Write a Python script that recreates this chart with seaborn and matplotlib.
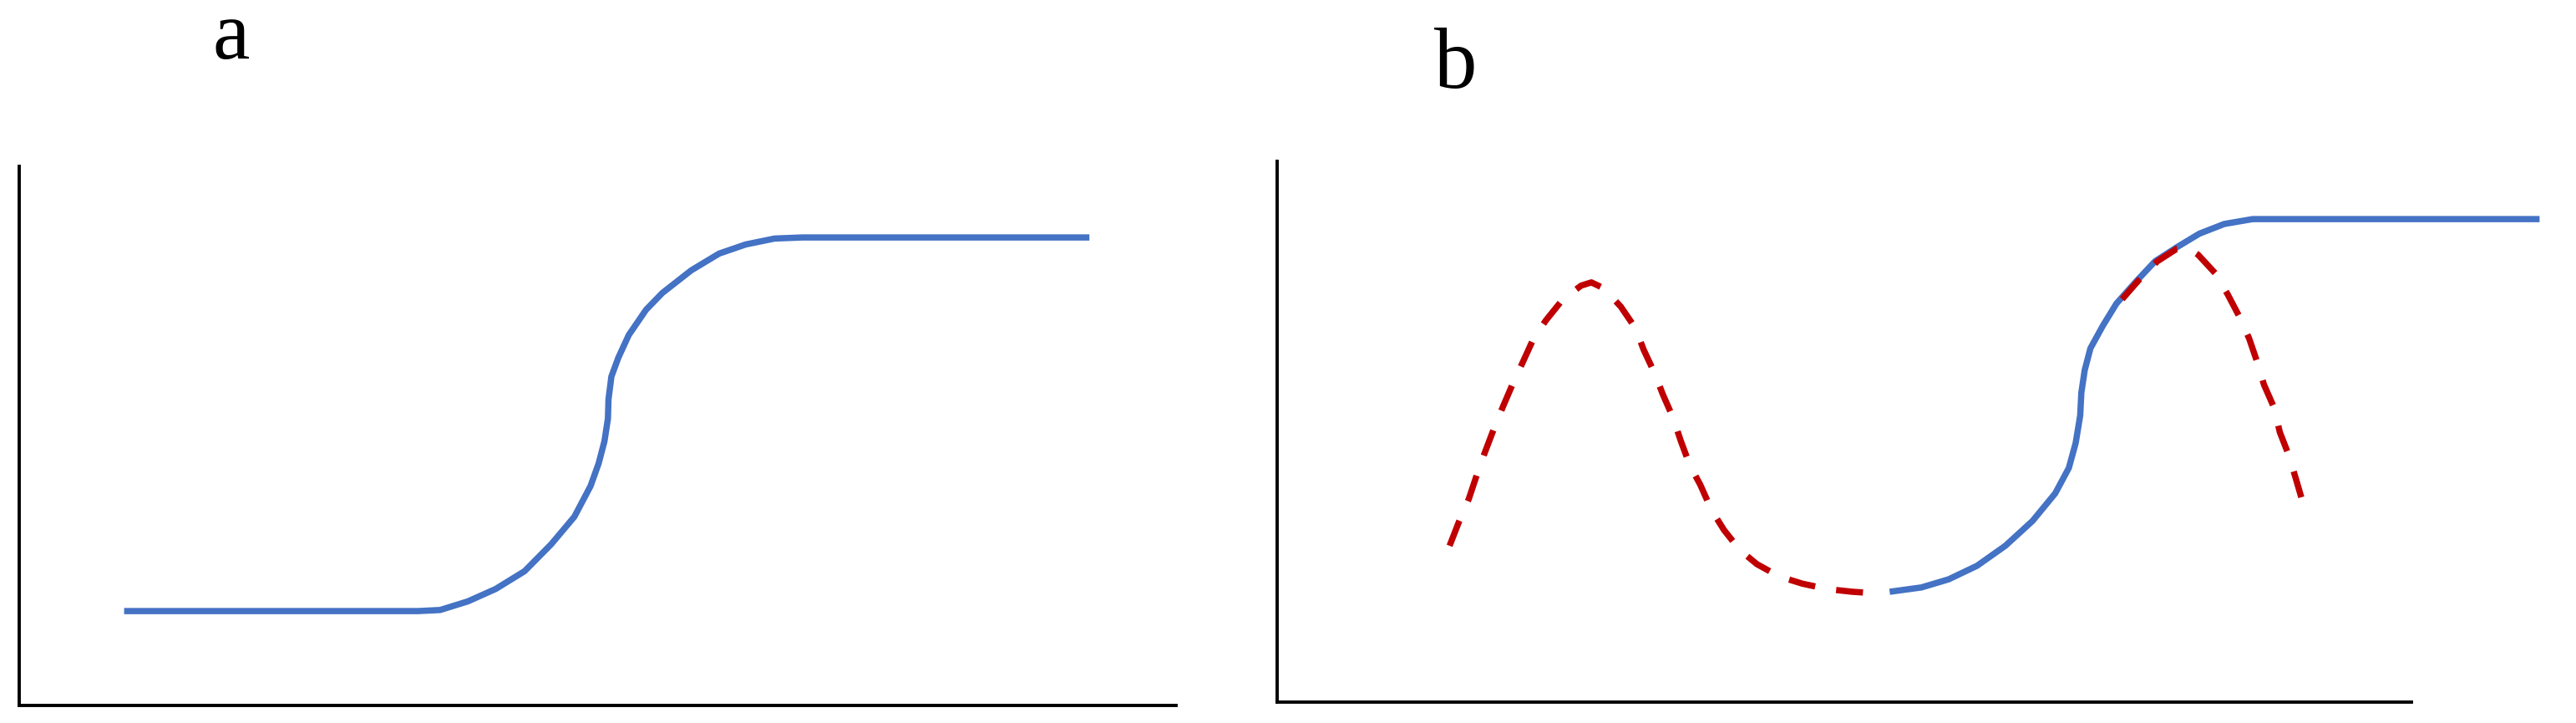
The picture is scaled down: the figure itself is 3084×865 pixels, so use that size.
import numpy as np
import pandas as pd
import matplotlib
matplotlib.use("Agg")
import matplotlib.pyplot as plt
import seaborn as sns

# ---- data (schematic curves, axis units 0..100) ----
a_x = [9.1, 34.5, 36.4, 38.8, 41.2, 43.7, 46.0, 48.0, 49.4, 50.1, 50.6, 50.9, 50.95, 51.2, 51.8,
       52.7, 54.2, 55.6, 58.1, 60.5, 62.8, 65.3, 67.7, 92.5]
a_y = [17.5, 17.5, 17.7, 19.3, 21.6, 24.9, 29.9, 35.0, 40.7, 44.9, 49.0, 53.2, 56.8, 61.0, 64.5,
       68.7, 73.4, 76.5, 80.7, 83.8, 85.5, 86.6, 86.8, 86.8]

b_blue_x = [54.0, 56.8, 59.2, 61.7, 64.2, 66.6, 68.6, 69.8, 70.4, 70.8, 70.9, 71.2, 71.7, 72.8,
            74.0, 75.7, 77.4, 79.4, 81.3, 83.5, 86.0, 87.2, 111.3]
b_blue_y = [20.4, 21.2, 22.7, 25.2, 28.9, 33.5, 38.6, 43.3, 47.9, 53.0, 57.2, 61.4, 65.4, 69.6,
            73.7, 77.7, 81.5, 84.2, 86.6, 88.4, 89.3, 89.3, 89.3]

b_red1_x = [15.2, 16.0, 16.9, 17.6, 18.3, 19.1, 19.9, 20.8, 21.6, 22.6, 23.7, 25.2, 26.8, 27.7,
            28.8, 30.3, 31.6, 32.3, 33.3, 34.0, 34.9, 35.6, 36.4, 37.3, 38.3, 39.4, 40.8, 42.3,
            44.3, 46.3, 48.5, 50.7, 52.9]
b_red1_y = [28.9, 33.2, 37.6, 42.0, 46.1, 50.5, 54.6, 59.0, 62.6, 67.2, 70.6, 74.5, 77.0, 77.6,
            76.5, 73.1, 69.1, 65.2, 60.7, 56.9, 52.6, 48.2, 43.7, 40.2, 35.5, 31.8, 28.1, 25.5,
            23.2, 21.9, 20.9, 20.4, 20.1]

b_red2_x = [74.5, 76.0, 77.6, 79.3, 80.2, 81.2, 82.7, 83.8, 84.8, 85.7, 86.4, 87.0, 87.9, 88.4,
            89.2, 89.8, 90.4]
b_red2_y = [74.5, 78.1, 81.5, 83.8, 84.1, 82.7, 79.3, 75.4, 71.4, 67.2, 62.9, 58.7, 54.4, 49.9,
            45.6, 41.4, 37.1]

panel_labels = ["a", "b"]

BLUE = "#4472C4"
RED = "#C00000"

sns.set_style("white")
plt.rcParams["font.family"] = ["Liberation Serif", "DejaVu Serif"]

fig = plt.figure(figsize=(30.84, 8.65), dpi=100)
ax_a = fig.add_axes([0.0073, 0.0243, 0.4493, 0.7457])
ax_b = fig.add_axes([0.4958, 0.0289, 0.4403, 0.7481])

for ax in (ax_a, ax_b):
    ax.set_xlim(0, 100)
    ax.set_ylim(0, 100)
    ax.set_xticks([])
    ax.set_yticks([])
    sns.despine(ax=ax, top=True, right=True)
    for s in ("left", "bottom"):
        ax.spines[s].set_linewidth(2.8)
        ax.spines[s].set_color("black")
        ax.spines[s].set_capstyle("projecting")
    ax.patch.set_alpha(0)

LW = 5.4
DASH_SEQ = (4.3, 3.4)   # in units of line width

sns.lineplot(x=a_x, y=a_y, sort=False, estimator=None, color=BLUE, ax=ax_a)
ax_a.set_xlabel(""); ax_a.set_ylabel("")

sns.lineplot(x=b_blue_x, y=b_blue_y, sort=False, estimator=None, color=BLUE, ax=ax_b)
blue_line = ax_b.lines[-1]
sns.lineplot(x=b_red1_x, y=b_red1_y, sort=False, estimator=None, color=RED, ax=ax_b)
red1_line = ax_b.lines[-1]
sns.lineplot(x=b_red2_x, y=b_red2_y, sort=False, estimator=None, color=RED, ax=ax_b)
red2_line = ax_b.lines[-1]
ax_b.set_xlabel(""); ax_b.set_ylabel("")

for ln in ax_a.lines:
    ln.set_linewidth(LW)
    ln.set_solid_capstyle("butt")
    ln.set_solid_joinstyle("round")
blue_line.set_linewidth(LW)
blue_line.set_clip_on(False)
blue_line.set_zorder(2)
blue_line.set_solid_capstyle("butt")
blue_line.set_solid_joinstyle("round")
for ln in (red1_line, red2_line):
    ln.set_linewidth(LW)
    ln.set_linestyle((0, DASH_SEQ))
    ln.set_dash_capstyle("butt")
    ln.set_dash_joinstyle("round")
    ln.set_zorder(3)

fig.text(0.0898, 0.919, panel_labels[0], fontsize=72, ha="center", va="baseline", color="black")
fig.text(0.565, 0.879, panel_labels[1], fontsize=74, ha="center", va="baseline", color="black")

fig.savefig("out.png", dpi=100, facecolor="white")
